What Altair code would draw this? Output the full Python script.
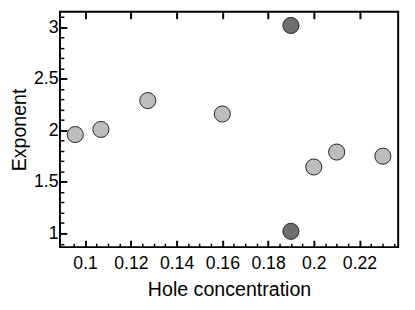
import altair as alt
import pandas as pd

# data
hole = [0.0957, 0.1069, 0.1274, 0.16, 0.19, 0.19, 0.2, 0.21, 0.2302]
exponent = [1.96, 2.01, 2.29, 2.16, 3.02, 1.02, 1.645, 1.79, 1.75]
kind = ["light", "light", "light", "light", "dark", "dark", "light", "light", "light"]

x_major = [0.1, 0.12, 0.14, 0.16, 0.18, 0.2, 0.22]
x_minor = [0.095, 0.105, 0.11, 0.115, 0.125, 0.13, 0.135, 0.145, 0.15, 0.155,
           0.165, 0.17, 0.175, 0.185, 0.19, 0.195, 0.205, 0.21, 0.215, 0.225,
           0.23, 0.235]
y_major = [1, 1.5, 2, 2.5, 3]
y_minor = [0.9, 1.1, 1.2, 1.3, 1.4, 1.6, 1.7, 1.8, 1.9, 2.1, 2.2, 2.3, 2.4,
           2.6, 2.7, 2.8, 2.9, 3.1]

df = pd.DataFrame({"hole": hole, "exponent": exponent, "kind": kind})

W, H = 345, 240
FONT = "Liberation Sans"

sx = alt.Scale(domain=[0.089, 0.2369], nice=False, zero=False)
sy = alt.Scale(domain=[0.8667, 3.152], nice=False, zero=False)


def tick_axis(orient, values, size, offset, width):
    return alt.Axis(orient=orient, values=values, tickSize=size, offset=offset,
                    labels=False, domain=False, grid=False, ticks=True,
                    tickColor="black", tickWidth=width)


points = alt.Chart(df).mark_circle(size=270, stroke="#222222", strokeWidth=1, opacity=1).encode(
    x=alt.X("hole:Q", scale=sx, title="Hole concentration",
            axis=alt.Axis(orient="bottom", values=x_major, format="~g", ticks=False,
                          domain=False, grid=False, labelPadding=8, titlePadding=7)),
    y=alt.Y("exponent:Q", scale=sy, title="Exponent",
            axis=alt.Axis(orient="left", values=y_major, format="~g", ticks=False,
                          domain=False, grid=False, labelPadding=2, titlePadding=4)),
    fill=alt.Fill("kind:N", scale=alt.Scale(domain=["light", "dark"],
                                            range=["#bdbdbd", "#6e6e6e"]), legend=None),
)

major_in = alt.Chart(df).mark_point(opacity=0).encode(
    x=alt.X("hole:Q", scale=sx, title=None, axis=tick_axis("top", x_major, 7, -H, 2)),
    y=alt.Y("exponent:Q", scale=sy, title=None, axis=tick_axis("right", y_major, 7, -W, 2)),
)

minor_in = alt.Chart(df).mark_point(opacity=0).encode(
    x=alt.X("hole:Q", scale=sx, title=None, axis=tick_axis("top", x_minor, 4, -H, 1.5)),
    y=alt.Y("exponent:Q", scale=sy, title=None, axis=tick_axis("right", y_minor, 4, -W, 1.5)),
)

top_major = alt.Chart(df).mark_point(opacity=0).encode(
    x=alt.X("hole:Q", scale=sx, title=None, axis=tick_axis("bottom", x_major, 7, -H, 2)),
    y=alt.Y("exponent:Q", scale=sy, axis=None),
)

chart = alt.layer(points, major_in, minor_in, top_major).resolve_axis(
    x="independent", y="independent"
).properties(
    width=W, height=H,
    padding={"left": 53, "top": 1, "right": 9, "bottom": 50},
    autosize=alt.AutoSizeParams(type="none"),
).configure_view(
    stroke="black", strokeWidth=2
).configure_axis(
    labelFont=FONT, titleFont=FONT, labelFontSize=18, titleFontSize=20,
    labelColor="black", titleColor="black", titleFontWeight="normal",
)

chart.save("out.html", embed_options={"renderer": "svg", "actions": False})
